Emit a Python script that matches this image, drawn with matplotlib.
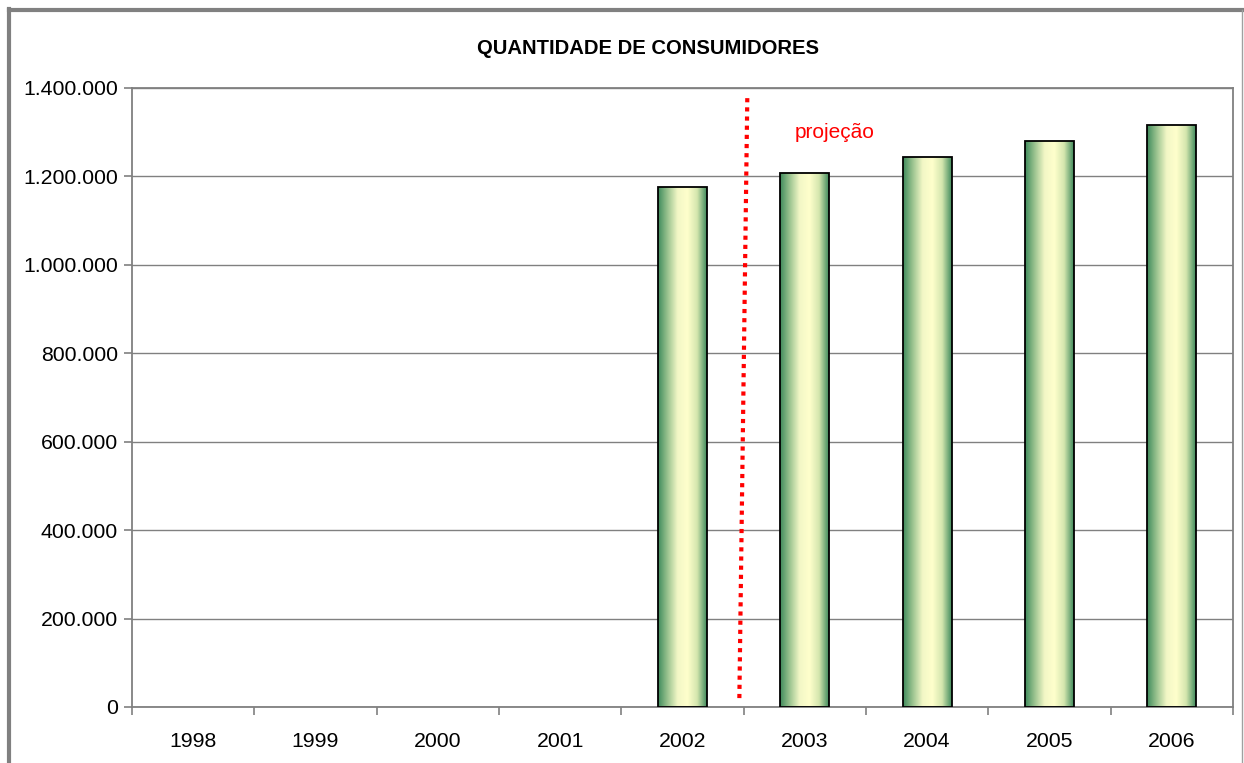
import numpy as np
import matplotlib.pyplot as plt
from matplotlib.colors import LinearSegmentedColormap
from matplotlib.lines import Line2D
from matplotlib.ticker import FuncFormatter, MultipleLocator

plt.rcParams["font.family"] = ["Liberation Sans", "DejaVu Sans"]

years = ["1998", "1999", "2000", "2001", "2002", "2003", "2004", "2005", "2006"]
consumidores = [0, 0, 0, 0, 1176000, 1208000, 1244000, 1280000, 1316000]

# dotted line separating real data from projection (data coords)
proj_line_x = [4.53, 4.465]
proj_line_y = [1377000, 16000]

fig = plt.figure(figsize=(12.44, 7.63), dpi=100)
ax = fig.add_axes([0.1061, 0.0734, 0.885, 0.8113])

x = np.arange(len(years))
bar_w = 0.4
cmap = LinearSegmentedColormap.from_list(
    "bar", ["#3f8a5c", "#9cc490", "#f2f7c6", "#ffffcc", "#d4e6ae", "#3f8a5c"]
)
grad = np.linspace(0, 1, 256).reshape(1, -1)

# no outline for empty years
edge_w = [1.3 if v > 0 else 0 for v in consumidores]
bars = ax.bar(x, consumidores, width=bar_w, facecolor="none",
              edgecolor="black", linewidth=edge_w, zorder=3)
for b in bars:
    h = b.get_height()
    if h <= 0:
        continue
    im = ax.imshow(grad, cmap=cmap, aspect="auto", zorder=2,
                   extent=[b.get_x(), b.get_x() + b.get_width(), 0, h])
    im.set_clip_path(b)

ax.plot(proj_line_x, proj_line_y, color="red", linestyle=(0, (1, 1.2)),
        linewidth=3, zorder=4)
ax.text(4.92, 1300000, "projeção", color="red", fontsize=15, ha="left", va="center")

ax.set_xlim(-0.5, len(years) - 0.5)
ax.set_ylim(0, 1400000)
ax.yaxis.set_major_locator(MultipleLocator(200000))
ax.yaxis.set_major_formatter(
    FuncFormatter(lambda v, p: f"{int(v):,}".replace(",", "."))
)
ax.set_xticks(x)
ax.set_xticklabels(years)
ax.set_xticks(np.arange(-0.5, len(years)), minor=True)
ax.tick_params(axis="x", which="major", length=0, pad=18, labelsize=15.3)
ax.tick_params(axis="x", which="minor", length=6, color="#808080", width=1.2)
ax.tick_params(axis="y", length=6, color="#808080", width=1.2, labelsize=15.3, pad=4)

ax.grid(axis="y", color="#808080", linewidth=1)
ax.set_axisbelow(True)
for s in ax.spines.values():
    s.set_color("#808080")
    s.set_linewidth(1.3)

fig.text(0.521, 0.937, "QUANTIDADE DE CONSUMIDORES", ha="center", va="center",
         fontsize=14.6, fontweight="bold")

# outer chart frame
fig.add_artist(Line2D([0.0075, 0.0075], [0.0, 0.988], color="#808080",
                      linewidth=3, transform=fig.transFigure))
fig.add_artist(Line2D([0.0075, 0.999], [0.987, 0.987], color="#808080",
                      linewidth=3, transform=fig.transFigure))
fig.add_artist(Line2D([0.9985, 0.9985], [0.0, 0.987], color="#a0a0a0",
                      linewidth=1, transform=fig.transFigure))

fig.savefig("out.png", dpi=100)
